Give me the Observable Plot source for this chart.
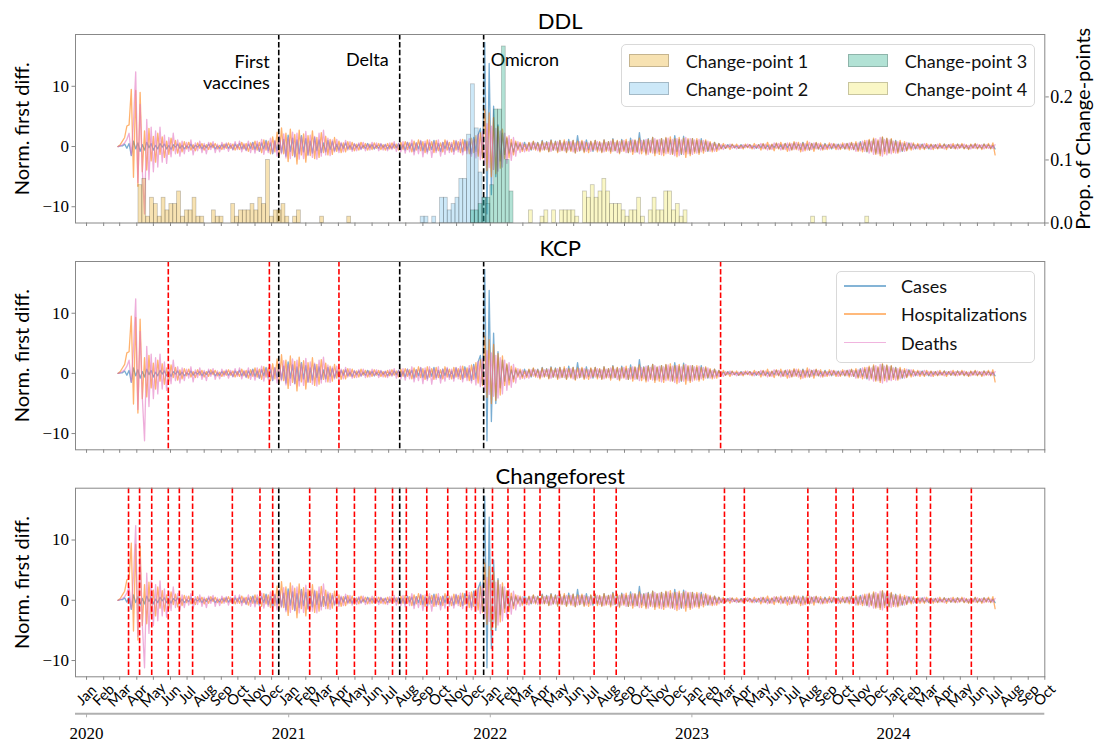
<!DOCTYPE html>
<html>
<head>
<meta charset="utf-8">
<script src="https://cdn.jsdelivr.net/npm/d3@7"></script>
<script src="https://cdn.jsdelivr.net/npm/@observablehq/plot@0.6"></script>
<style>
  body { margin: 0; background: #fff; }
  #chart { position: relative; width: 1097px; height: 744px; overflow: hidden; background: #fff; }
  #chart > svg { position: absolute; left: 0; }
  .legend { position: absolute; background: rgba(255,255,255,0.8); border: 1px solid #d9d9d9; border-radius: 5px;
            font-family: Lato, "Open Sans", sans-serif; font-size: 18px; color: #111; }
  .legend .item { position: absolute; white-space: nowrap; line-height: 1; }
</style>
</head>
<body>
<div id="chart"></div>
<script>
// ---- Normalised first differences, one value every 4 days from 2020-02-27 ----
const seriesStart = "2020-02-27";
const stepDays = 4;

const cases = [
  0, 0.1, 0.1, 0.4, -0.3, 0.5, -1.5, 0.9, -0.4, 0.6,
  -0.8, 0.3, -0.6, 0.7, -0.2, 0.5, -0.6, 0.2, -0.4, 0.5,
  -0.1, 0.4, -0.4, 0.2, -0.5, 0.3, -0.1, 0.4, -0.3, 0.2,
  -0.4, 0.1, -0.2, 0.4, -0.3, 0.2, -0.1, 0.3, -0.4, 0.2,
  -0.2, 0.4, -0.1, 0.3, -0.4, 0.1, -0.3, 0.3, -0.2, 0.4,
  -0.3, 0.2, -0.5, 0.4, -0.2, 0.5, -0.4, 0.3, -0.6, 0.4,
  -0.3, 0.7, -0.5, 0.4, -0.8, 0.6, -0.4, 1.0, -0.7, 0.6,
  -1.2, 0.9, -0.7, 1.6, -1.0, 1.2, -1.6, 1.9, -0.8, 1.4,
  -1.7, 1.1, -1.2, 1.8, -0.9, 1.3, -1.4, 0.9, -1.1, 1.5,
  -0.7, 1.1, -1.0, 0.6, -0.9, 1.0, -0.5, 0.8, -0.7, 0.4,
  -0.6, 0.5, -0.3, 0.6, -0.4, 0.2, -0.5, 0.4, -0.2, 0.4,
  -0.4, 0.2, -0.3, 0.5, -0.2, 0.3, -0.4, 0.2, -0.3, 0.4,
  -0.2, 0.3, -0.4, 0.2, -0.3, 0.4, -0.2, 0.5, -0.5, 0.3,
  -0.6, 0.7, -0.3, 0.5, -0.8, 0.6, -0.4, 0.9, -0.7, 0.5,
  -0.9, 0.6, -0.5, 1.0, -0.7, 0.5, -0.8, 0.7, -0.4, 0.8,
  -0.6, 0.4, -0.8, 0.9, -0.5, 0.7, -0.9, 1.1, -0.6, 0.8,
  -1.2, 1.5, -0.8, 1.9, 3.0, -1.8, 17.3, -11.2, 13.8, -8.0,
  6.7, -5.0, 3.6, -2.4, 2.2, -1.3, 1.4, -1.1, 0.6, -0.9,
  0.6, -0.3, 0.4, -0.5, 0.7, -0.4, 0.6, -0.6, 0.8, -0.4,
  0.7, -0.7, 1.0, -0.5, 0.8, -0.8, 1.1, -0.6, 0.9, -0.8,
  1.0, -0.6, 0.8, -0.9, 1.2, -0.6, 1.0, -1.0, 1.8, -0.7,
  0.8, -0.8, 1.1, -0.5, 0.8, -0.8, 1.0, -0.6, 0.7, -0.9,
  1.1, -0.6, 0.8, -0.8, 1.3, -0.7, 0.9, -1.0, 1.2, -0.6,
  0.8, -1.0, 1.4, -0.8, 1.0, -0.9, 2.3, -0.7, 1.1, -1.1,
  1.3, -0.8, 1.5, -1.1, 1.0, -0.8, 1.3, -1.0, 1.4, -0.8,
  1.1, -1.2, 1.8, -0.8, 1.2, -1.3, 1.7, -0.9, 1.1, -1.2,
  1.3, -0.8, 1.0, -1.0, 1.3, -0.7, 0.9, -0.8, 0.6, -0.6,
  0.7, -0.4, 0.5, -0.3, 0.2, -0.3, 0.3, -0.1, 0.3, -0.2,
  0.1, -0.3, 0.3, -0.2, 0.2, -0.1, 0.3, -0.2, 0.1, -0.3,
  0.3, -0.2, 0.4, -0.3, 0.2, -0.4, 0.3, -0.2, 0.5, -0.3,
  0.3, -0.4, 0.5, -0.2, 0.4, -0.5, 0.6, -0.3, 0.4, -0.5,
  0.7, -0.4, 0.4, -0.6, 0.5, -0.3, 0.6, -0.4, 0.3, -0.4,
  0.5, -0.2, 0.3, -0.4, 0.4, -0.2, 0.4, -0.3, 0.3, -0.4,
  0.5, -0.3, 0.6, -0.5, 0.5, -0.6, 0.8, -0.5, 0.7, -0.9,
  1.0, -0.7, 1.2, -1.1, 0.9, -1.2, 1.5, -0.8, 1.3, -1.0,
  1.2, -0.7, 1.0, -0.9, 0.7, -0.8, 0.5, -0.6, 0.6, -0.3,
  0.4, -0.4, 0.3, -0.2, 0.4, -0.3, 0.2, -0.4, 0.3, -0.2,
  0.3, -0.3, 0.2, -0.2, 0.4, -0.2, 0.3, -0.3, 0.2, -0.3,
  0.4, -0.2, 0.3, -0.3, 0.2, -0.4, 0.3, -0.2, 0.4, -0.3,
  0.2, -0.3, 0.4, -0.2, 0.3, -0.3, 0.2, -0.4
];

const hospitalizations = [
  0, 0.3, 0.9, 1.5, 3.4, 3.6, 9.5, -5.1, 9.3, -6.6,
  9.0, -4.2, 2.6, -3.9, 3.0, -2.4, 1.7, -2.6, 2.2, -1.3,
  1.6, -1.8, 0.9, -1.3, 1.4, -0.7, 1.0, -1.1, 0.6, -0.9,
  0.8, -0.4, 0.7, -0.6, 0.3, -0.7, 0.6, -0.3, 0.5, -0.6,
  0.3, -0.5, 0.6, -0.2, 0.5, -0.4, 0.2, -0.5, 0.4, -0.3,
  0.6, -0.3, 0.4, -0.6, 0.3, -0.5, 0.7, -0.4, 0.5, -0.8,
  0.6, -0.5, 0.9, -0.6, 0.7, -1.0, 1.1, -0.6, 0.9, -1.2,
  1.6, -0.9, 2.4, -1.6, 3.1, -1.2, 2.2, -2.5, 2.9, -1.5,
  2.0, -2.9, 2.7, -1.4, 2.1, -2.6, 1.8, -1.5, 2.6, -2.0,
  1.5, -1.8, 2.3, -1.0, 1.7, -1.4, 1.2, -1.3, 1.5, -0.8,
  0.9, -1.0, 0.6, -0.9, 0.8, -0.5, 0.7, -0.7, 0.4, -0.6,
  0.7, -0.3, 0.5, -0.6, 0.4, -0.5, 0.6, -0.3, 0.5, -0.5,
  0.3, -0.6, 0.5, -0.4, 0.6, -0.3, 0.4, -0.6, 0.7, -0.5,
  0.8, -0.5, 0.6, -0.9, 0.9, -0.6, 1.1, -0.7, 0.8, -1.0,
  1.1, -0.6, 0.8, -1.0, 1.0, -0.7, 0.6, -0.9, 1.1, -0.6,
  0.7, -0.9, 1.0, -0.6, 0.8, -1.0, 1.2, -0.7, 0.9, -1.2,
  1.4, -1.0, 1.8, -1.6, 2.3, -2.0, 6.2, -4.0, 5.6, -5.0,
  4.8, -4.5, 3.3, -3.6, 2.9, -2.0, 1.6, -1.9, 1.2, -1.4,
  0.9, -0.6, 0.7, -0.8, 0.4, -0.7, 0.7, -0.5, 0.9, -0.6,
  0.6, -0.9, 0.9, -0.6, 0.7, -0.9, 1.0, -0.6, 0.8, -1.0,
  1.0, -0.7, 1.1, -1.0, 0.8, -0.8, 1.0, -1.1, 0.9, -0.7,
  1.0, -1.0, 0.7, -1.0, 0.9, -0.6, 1.0, -0.9, 0.8, -1.0,
  1.1, -0.8, 0.8, -1.1, 1.2, -0.7, 1.0, -1.2, 1.0, -0.8,
  1.2, -1.0, 1.0, -1.3, 1.1, -0.9, 1.4, -1.2, 1.0, -1.4,
  1.2, -1.0, 1.5, -1.5, 1.1, -1.3, 1.3, -1.5, 1.5, -1.1,
  1.6, -1.3, 1.3, -1.7, 1.5, -1.2, 1.4, -1.8, 1.3, -1.5,
  1.3, -1.1, 1.3, -1.3, 1.0, -1.1, 1.1, -0.7, 0.8, -0.9,
  0.7, -0.8, 0.5, -0.4, 0.5, -0.3, 0.2, -0.5, 0.4, -0.2,
  0.4, -0.3, 0.2, -0.4, 0.4, -0.2, 0.3, -0.4, 0.5, -0.2,
  0.3, -0.6, 0.5, -0.4, 0.7, -0.5, 0.4, -0.7, 0.6, -0.4,
  0.7, -0.5, 0.5, -0.8, 0.6, -0.6, 0.8, -0.5, 0.7, -0.9,
  0.6, -0.7, 0.9, -0.6, 0.5, -0.8, 0.7, -0.4, 0.6, -0.6,
  0.4, -0.5, 0.6, -0.3, 0.5, -0.5, 0.3, -0.5, 0.6, -0.4,
  0.5, -0.6, 0.7, -0.5, 0.8, -0.8, 0.6, -0.9, 1.0, -0.8,
  1.2, -0.9, 1.4, -1.3, 1.1, -1.5, 1.6, -1.2, 1.4, -1.1,
  1.3, -1.0, 0.9, -1.1, 1.0, -0.7, 0.8, -0.7, 0.5, -0.6,
  0.6, -0.3, 0.5, -0.5, 0.3, -0.5, 0.5, -0.3, 0.4, -0.5,
  0.3, -0.4, 0.5, -0.3, 0.4, -0.5, 0.3, -0.3, 0.5, -0.4,
  0.4, -0.3, 0.5, -0.4, 0.3, -0.5, 0.4, -0.3, 0.5, -0.4,
  0.3, -0.5, 0.4, -0.3, 0.5, -0.4, 0.6, -1.4
];

const deaths = [
  0, 0.1, 0.3, 0.6, 1.2, 2.2, -1.4, 4.0, 12.4, -6.0,
  7.0, -4.0, -11.2, 4.5, -5.5, 3.2, -4.2, 2.6, -3.4, 3.2,
  -2.6, 1.9, -2.8, 1.5, -1.7, 2.2, -1.2, 1.1, -1.6, 0.9,
  -1.2, 0.7, -0.8, 1.1, -1.4, 0.6, -0.7, 0.9, -1.0, 0.5,
  -1.2, 0.7, -0.5, 0.8, -1.0, 0.4, -0.9, 0.7, -0.5, 0.6,
  -0.8, 0.5, -0.6, 0.8, -0.5, 0.9, -0.9, 0.5, -0.7, 0.9,
  -1.0, 0.6, -1.1, 0.9, -0.8, 1.2, -1.3, 0.8, -1.0, 1.4,
  -1.1, 1.0, -1.6, 1.8, -1.2, 2.1, -1.9, 1.5, -2.0, 2.4,
  -1.7, 2.2, -2.1, 1.6, -2.0, 2.5, -1.5, 1.9, -1.8, 1.7,
  -2.1, 2.2, -1.6, 2.7, -1.4, 1.4, -1.5, 1.1, -0.9, 1.2,
  -1.0, 0.7, -0.9, 1.0, -0.6, 0.8, -0.8, 0.5, -0.7, 0.6,
  -0.5, 0.7, -0.7, 0.4, -0.6, 0.7, -0.4, 0.6, -0.7, 0.5,
  -0.6, 0.4, -0.7, 0.6, -0.5, 0.8, -0.8, 0.5, -0.9, 0.8,
  -1.1, 0.7, -0.9, 1.1, -1.4, 0.6, -1.2, 1.0, -1.7, 0.9,
  -1.2, 1.1, -1.8, 0.8, -1.0, 1.1, -1.6, 0.7, -1.3, 1.0,
  -1.0, 0.7, -1.3, 1.0, -0.9, 1.2, -1.4, 0.8, -1.2, 1.3,
  -1.6, 1.2, -1.9, 2.0, -2.2, 2.5, -3.0, 3.8, -3.5, 3.4,
  -3.8, 3.0, -4.1, 2.6, -3.4, 2.2, -2.8, 1.8, -2.3, 1.5,
  -1.6, 0.8, -1.0, 0.6, -0.9, 0.4, -0.8, 0.6, -0.5, 0.6,
  -0.7, 0.4, -0.6, 0.6, -0.5, 0.7, -0.8, 0.5, -0.6, 0.8,
  -0.8, 0.6, -0.7, 0.8, -0.6, 0.8, -0.9, 0.6, -0.8, 0.8,
  -0.6, 0.8, -0.8, 0.6, -0.8, 0.6, -0.6, 0.8, -0.7, 0.6,
  -0.9, 0.7, -0.7, 0.9, -0.8, 0.7, -1.0, 0.8, -0.8, 1.0,
  -1.0, 0.8, -0.9, 1.1, -1.0, 0.9, -1.2, 1.0, -0.9, 1.2,
  -1.3, 1.0, -1.1, 1.3, -1.1, 1.2, -1.4, 1.1, -1.2, 1.4,
  -1.3, 1.2, -1.5, 1.3, -1.5, 1.1, -1.3, 1.5, -1.2, 1.3,
  -1.3, 1.1, -1.1, 1.2, -0.9, 1.0, -0.8, 0.9, -0.8, 0.5,
  -0.8, 0.4, -0.6, 0.3, -0.5, 0.3, -0.2, 0.4, -0.3, 0.2,
  -0.4, 0.2, -0.3, 0.3, -0.2, 0.4, -0.3, 0.2, -0.4, 0.3,
  -0.3, 0.5, -0.4, 0.4, -0.6, 0.3, -0.5, 0.6, -0.3, 0.5,
  -0.6, 0.4, -0.5, 0.6, -0.7, 0.5, -0.5, 0.7, -0.6, 0.5,
  -0.8, 0.5, -0.6, 0.7, -0.5, 0.6, -0.4, 0.5, -0.6, 0.3,
  -0.5, 0.3, -0.4, 0.5, -0.3, 0.4, -0.5, 0.4, -0.3, 0.5,
  -0.4, 0.6, -0.5, 0.5, -0.8, 0.6, -0.7, 0.9, -0.8, 1.0,
  -1.1, 0.9, -1.3, 1.3, -1.2, 1.5, -1.6, 1.2, -1.4, 1.1,
  -1.2, 0.9, -1.1, 0.8, -0.9, 0.6, -0.8, 0.7, -0.4, 0.6,
  -0.5, 0.3, -0.4, 0.4, -0.3, 0.5, -0.3, 0.3, -0.5, 0.3,
  -0.3, 0.4, -0.3, 0.2, -0.4, 0.3, -0.2, 0.4, -0.3, 0.3,
  -0.4, 0.3, -0.2, 0.4, -0.3, 0.2, -0.4, 0.3, -0.3, 0.4,
  -0.2, 0.3, -0.4, 0.3, -0.3, 0.2, -0.3, 0.3
];

const seriesNames = ["Cases", "Hospitalizations", "Deaths"];
const seriesColors = ["#1f77b4", "#ff7f0e", "#e377c2"];

// ---- DDL: share of runs placing each change-point in a given week ----
const cpLabels = ["Change-point 1", "Change-point 2", "Change-point 3", "Change-point 4"];
const cpColors = ["#E69F00", "#56B4E9", "#009E73", "#F0E442"];
const cpFirstWeek = ["2020-04-04", "2021-08-28", "2021-11-27", "2022-03-12"];
const cp1 = [0.06, 0.07, 0.01, 0.04, 0.03, 0.01, 0.04, 0.02, 0.03, 0.03, 0.05, 0.01, 0.02, 0.02, 0.04,
             0.01, 0.01, 0, 0, 0.02, 0.01, 0.01, 0, 0, 0.03, 0.01, 0.02, 0.02, 0.02, 0.03, 0.02, 0.04,
             0.03, 0.10, 0.01, 0.02, 0.02, 0.03, 0.01, 0, 0.01, 0.02, 0, 0, 0, 0, 0, 0.01, 0, 0, 0, 0, 0, 0, 0.01];
const cp2 = [0.01, 0.01, 0, 0.01, 0, 0.04, 0.04, 0.02, 0.03, 0.04, 0.07, 0.07, 0.14, 0.22, 0.15, 0.08, 0.04, 0.03];
const cp3 = [0.02, 0.02, 0.03, 0.04, 0.04, 0.06, 0.18, 0.18, 0.28, 0.10, 0.05];
const cp4 = [0.02, 0, 0, 0.01, 0.02, 0, 0.02, 0, 0.02, 0.02, 0.02, 0.02, 0.01, 0, 0.05, 0.04, 0.06, 0.04,
             0.05, 0.07, 0.05, 0.03, 0.03, 0.03, 0.02, 0.01, 0.02, 0.02, 0.04, 0.01, 0, 0.02, 0.04, 0.02,
             0.02, 0.05, 0.05, 0.02, 0.03, 0.01, 0.02, 0, 0, 0, 0, 0, 0, 0, 0, 0, 0, 0, 0, 0, 0, 0, 0, 0,
             0, 0, 0, 0, 0, 0, 0, 0, 0, 0, 0, 0, 0, 0, 0, 0.01, 0, 0, 0.01, 0, 0, 0, 0, 0, 0, 0, 0, 0, 0, 0.01];
const cpWeeks = [cp1, cp2, cp3, cp4];

// ---- Reference events and detected change-points ----
const eventDates = ["2020-12-14", "2021-07-21", "2021-12-20"];
const eventLabels = ["First\nvaccines", "Delta", "Omicron"];
const kcpDates = ["2020-05-28", "2020-11-27", "2021-04-02", "2023-02-22"];
const changeforestDates = [
  "2020-03-17", "2020-04-06", "2020-04-28", "2020-05-28", "2020-06-17", "2020-07-11", "2020-09-21",
  "2020-11-10", "2020-12-03", "2021-02-08", "2021-03-29", "2021-04-30", "2021-06-07", "2021-07-08",
  "2021-08-02", "2021-09-08", "2021-10-16", "2021-11-19", "2021-12-05", "2022-01-05", "2022-02-02",
  "2022-03-04", "2022-04-01", "2022-05-06", "2022-07-08", "2022-08-17", "2023-03-01", "2023-04-06",
  "2023-07-30", "2023-09-19", "2023-10-20", "2023-12-21", "2024-02-12", "2024-03-08", "2024-05-21"
];

// ---- Layout ----
const sans = "Lato, 'Open Sans', sans-serif";
const serif = "'Liberation Serif', 'DejaVu Serif', serif";
const W = 1097, ML = 75, MR = 52.7;
const xDomain = [new Date("2019-12-12"), new Date("2024-10-01")];
const yDomain = [-12.7, 18.6];
const monthTicks = d3.utcMonth.range(new Date("2020-01-01"), new Date("2024-10-02"));
const yearTicks = d3.utcYear.range(new Date("2020-01-01"), new Date("2024-12-31"));
const chart = document.getElementById("chart");
const toDate = (s) => new Date(s);
const minus = (d) => (d < 0 ? "\u2212" + Math.abs(d) : String(d));
const centred = {textAnchor: "middle", lineAnchor: "middle"};

function place(node, top) {
  node.style.top = top + "px";
  chart.appendChild(node);
}

function seriesRows(values) {
  const t0 = new Date(seriesStart);
  return values.map((v, i) => ({date: d3.utcDay.offset(t0, i * stepDays), value: v}));
}

function lineMarks() {
  return [cases, hospitalizations, deaths].map((vals, k) =>
    Plot.line(seriesRows(vals), {x: "date", y: "value", stroke: seriesColors[k], strokeOpacity: 0.6, strokeWidth: 1.3})
  );
}

const dash = "5.5,2.4";

function panel({top, height, mt, mb, title, titleDy, redDates, extra = []}) {
  const svg = Plot.plot({
    width: W, height, marginLeft: ML, marginRight: MR, marginTop: mt, marginBottom: mb,
    style: {background: "none", overflow: "visible"},
    x: {type: "utc", domain: xDomain},
    y: {domain: yDomain},
    marks: [
      ...lineMarks(),
      Plot.ruleX(redDates.map(toDate), {stroke: "red", strokeWidth: 1.6, strokeDasharray: dash}),
      Plot.ruleX(eventDates.map(toDate), {stroke: "black", strokeWidth: 1.6, strokeDasharray: dash}),
      Plot.frame({stroke: "#888"}),
      Plot.axisX({ticks: monthTicks, tickSize: 3.5, tickFormat: () => "", stroke: "#888"}),
      Plot.axisY({ticks: [-10, 0, 10], tickSize: 3.5, tickPadding: 3, tickFormat: minus, label: null,
                  fontSize: 17, fontFamily: serif, stroke: "#888"}),
      Plot.text(["Norm. first diff."], {frameAnchor: "left", dx: -53, rotate: -90, fontSize: 20, fontFamily: sans, ...centred}),
      Plot.text([title], {frameAnchor: "top", dy: titleDy, fontSize: 22, fontFamily: sans, ...centred}),
      ...extra
    ]
  });
  place(svg, top);
}

// DDL panel: series, events and their labels
panel({
  top: 0, height: 240, mt: 34, mb: 17.5, title: "DDL", titleDy: -12.3, redDates: [],
  extra: [
    Plot.text([0], {x: () => toDate(eventDates[0]), text: () => eventLabels[0], frameAnchor: "top", dy: 37, dx: -9,
                    textAnchor: "end", lineAnchor: "middle", lineHeight: 1.2, fontSize: 18, fontFamily: sans}),
    Plot.text([0], {x: () => toDate(eventDates[1]), text: () => eventLabels[1], frameAnchor: "top", dy: 26, dx: -11,
                    textAnchor: "end", lineAnchor: "middle", fontSize: 18, fontFamily: sans}),
    Plot.text([0], {x: () => toDate(eventDates[2]), text: () => eventLabels[2], frameAnchor: "top", dy: 26, dx: 7,
                    textAnchor: "start", lineAnchor: "middle", fontSize: 18, fontFamily: sans})
  ]
});

// DDL panel: change-point histograms on the right-hand axis
const barMarks = cpWeeks.map((weeks, k) => {
  const t0 = new Date(cpFirstWeek[k]);
  const rows = weeks.map((p, i) => ({start: d3.utcDay.offset(t0, 7 * i), end: d3.utcDay.offset(t0, 7 * i + 7), p}))
                    .filter((d) => d.p > 0);
  return Plot.rectY(rows, {x1: "start", x2: "end", y: "p", fill: cpColors[k], fillOpacity: 0.3,
                           stroke: "black", strokeOpacity: 0.22, strokeWidth: 0.8});
});
place(Plot.plot({
  width: W, height: 240, marginLeft: ML, marginRight: MR, marginTop: 34, marginBottom: 17.5,
  style: {background: "none", overflow: "visible"},
  x: {type: "utc", domain: xDomain, axis: null},
  y: {domain: [0, 0.299]},
  marks: [
    ...barMarks,
    Plot.axisY({anchor: "right", ticks: [0, 0.1, 0.2], tickFormat: d3.format(".1f"), tickSize: 3.5, tickPadding: 2,
                label: null, fontSize: 18, fontFamily: serif, stroke: "#888"}),
    Plot.text(["Prop. of Change-points"], {frameAnchor: "right", dx: 38.7, rotate: -90, fontSize: 20, fontFamily: sans, ...centred})
  ]
}), 0);

// KCP panel
panel({top: 240, height: 220, mt: 21, mb: 10.7, title: "KCP", titleDy: -13, redDates: kcpDates});

// Changeforest panel with month labels
const monthName = d3.utcFormat("%b");
panel({
  top: 460, height: 240, mt: 27.7, mb: 23.7, title: "Changeforest", titleDy: -11, redDates: changeforestDates,
  extra: [
    Plot.text(monthTicks, {x: (d) => d, text: (d) => monthName(d), frameAnchor: "bottom", dy: 18.5, rotate: -45,
                           fontSize: 14.5, fontFamily: sans, ...centred})
  ]
});

// Year axis underneath
place(Plot.plot({
  width: W, height: 44, marginLeft: ML, marginRight: MR, marginTop: 13.3, marginBottom: 30.7,
  style: {background: "none", overflow: "visible"},
  x: {type: "utc", domain: xDomain, axis: null},
  y: {axis: null},
  marks: [
    Plot.ruleY([0], {stroke: "#b0b0b0", strokeWidth: 2}),
    Plot.axisX({ticks: yearTicks, tickFormat: d3.utcFormat("%Y"), tickSize: 4, tickPadding: 9,
                fontSize: 17, fontFamily: serif, stroke: "#b0b0b0"})
  ]
}), 700);

// Legends
function legendBox(left, top, width, height) {
  const box = document.createElement("div");
  box.className = "legend";
  Object.assign(box.style, {left: left + "px", top: top + "px", width: width + "px", height: height + "px"});
  chart.appendChild(box);
  return box;
}
function addItem(box, text, left, centerY) {
  const el = document.createElement("div");
  el.className = "item";
  el.textContent = text;
  Object.assign(el.style, {left: left + "px", top: centerY + "px", transform: "translateY(-50%)"});
  box.appendChild(el);
}

const cpBox = legendBox(620.7, 44.3, 412, 61);
cpLabels.forEach((label, k) => {
  const col = Math.floor(k / 2), row = k % 2;
  const x0 = 7 + col * 219, cy = 15.7 + row * 28.3;
  const sw = document.createElement("div");
  const c = d3.color(cpColors[k]);
  Object.assign(sw.style, {position: "absolute", left: x0 + "px", top: (cy - 7) + "px", width: "40px", height: "13px",
    background: `rgba(${c.r},${c.g},${c.b},0.3)`, border: "1px solid rgba(0,0,0,0.2)", boxSizing: "border-box"});
  cpBox.appendChild(sw);
  addItem(cpBox, label, x0 + 57, cy);
});

const seriesBox = legendBox(836, 270.7, 197, 90);
seriesNames.forEach((name, k) => {
  const cy = 14.5 + k * 28.3;
  const ln = document.createElement("div");
  const c = d3.color(seriesColors[k]);
  Object.assign(ln.style, {position: "absolute", left: "7px", top: (cy - 1) + "px", width: "42px", height: "1.6px",
    background: `rgba(${c.r},${c.g},${c.b},0.55)`});
  seriesBox.appendChild(ln);
  addItem(seriesBox, name, 64, cy);
});
</script>
</body>
</html>
